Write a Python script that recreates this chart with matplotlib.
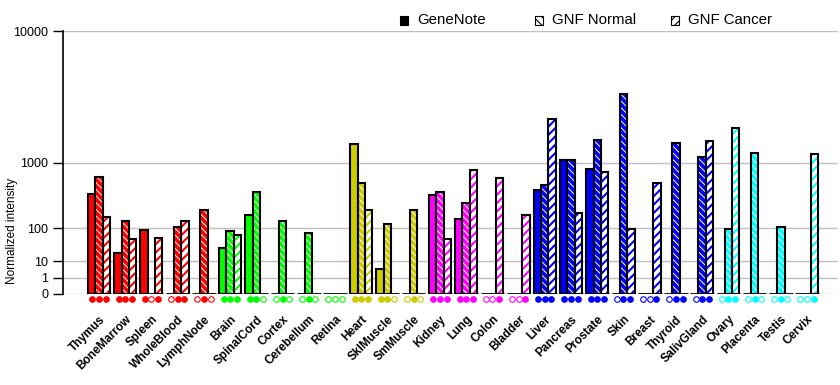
"""
Expression profile across tissues: GeneNote vs GNF normal / cancer.
Y axis uses a power scale where each decade takes twice the height of the one below.
"""
import matplotlib

matplotlib.use("Agg")
import matplotlib.pyplot as plt
from matplotlib.patches import Rectangle
import matplotlib.transforms as mtransforms
import numpy as np

plt.rcParams["font.family"] = ["Liberation Sans", "DejaVu Sans"]
plt.rcParams["hatch.linewidth"] = 1.3

TISSUES = ["Thymus", "BoneMarrow", "Spleen", "WholeBlood", "LymphNode",
           "Brain", "SpinalCord", "Cortex", "Cerebellum", "Retina",
           "Heart", "SklMuscle", "SmMuscle",
           "Kidney", "Lung", "Colon", "Bladder",
           "Liver", "Pancreas", "Prostate", "Skin", "Breast", "Thyroid", "SalivGland",
           "Ovary", "Placenta", "Testis", "Cervix"]

GENENOTE = [406, 21, 93, 0, 0, 31, 186, 0, 0, 0, 1556, 3.8, 0,
            396, 157, 0, 0, 452, 1053, 836, 0, 0, 0, 0, 0, 0, 0, 0]
GNF_NORMAL = [682, 139, 0, 108, 222, 89, 433, 139, 80, 0, 578, 125, 222,
              424, 290, 0, 0, 528, 1053, 1700, 4040, 0, 1600, 1133, 94, 1265, 108, 0]
GNF_CANCER = [171, 54, 57, 139, 0, 68, 0, 0, 0, 0, 222, 0, 0,
              54, 812, 651, 181, 2560, 196, 790, 98, 562, 0, 1640, 2190, 0, 0, 1237]

# presence calls shown as diamonds under each tissue (GeneNote, GNF normal, GNF cancer)
PRESENT = ["111", "111", "101", "011", "010",
           "111", "110", "010", "010", "000",
           "111", "110", "010",
           "111", "111", "001", "001",
           "111", "111", "111", "011", "001", "011", "011",
           "011", "010", "010", "001"]

GROUP_SIZES = [5, 5, 3, 4, 7, 4]
GROUP_COLORS = ["#ff0000", "#00ff00", "#cccc00", "#ff00ff", "#0000ff", "#00ffff"]

YTICKS = [0, 1, 10, 100, 1000, 10000]
EXP = np.log10(2)


def forward(v):
    return np.power(np.clip(v, 0, None), EXP)


def inverse(y):
    return np.power(np.clip(y, 0, None), 1 / EXP)


colors = []
for size, col in zip(GROUP_SIZES, GROUP_COLORS):
    colors += [col] * size

fig = plt.figure(figsize=(8.4, 3.85), dpi=100)
ax = fig.add_axes([63 / 840, 1 - 294 / 385, 775 / 840, 263 / 385])
ax.set_yscale("function", functions=(forward, inverse))
ax.set_ylim(0, 10000)
ax.set_xlim(-1.373, 28.18)

x = np.arange(len(TISSUES))
w = 0.28
offsets = [-w, 0, w]

for yv in YTICKS:
    ax.axhline(yv, color="#c0c0c0", lw=1, zorder=0)

for i in x:
    c = colors[i]
    vals = [GENENOTE[i], GNF_NORMAL[i], GNF_CANCER[i]]
    for k, v in enumerate(vals):
        if v <= 0:
            continue
        xc = i + offsets[k]
        if k == 0:
            ax.bar(xc, v, width=w, color=c, edgecolor="black", lw=1.5, zorder=3)
        elif k == 1:
            with matplotlib.rc_context({"hatch.linewidth": 0.7}):
                ax.bar(xc, v, width=w, color=c, edgecolor="white",
                       hatch="\\\\\\\\\\", lw=0, zorder=2)
            ax.bar(xc, v, width=w, fill=False, edgecolor="black", lw=1.5, zorder=3)
        else:
            with matplotlib.rc_context({"hatch.linewidth": 1.5}):
                ax.bar(xc, v, width=w, color="white", edgecolor=c,
                       hatch="////", lw=0, zorder=2)
            ax.bar(xc, v, width=w, fill=False, edgecolor="black", lw=1.5, zorder=3)
    ax.hlines(0, i - 0.45, i + 0.45, color="black", lw=2, zorder=4)

# presence markers below the baseline
trans = mtransforms.blended_transform_factory(ax.transData, ax.transAxes)
for i in x:
    for k, flag in enumerate(PRESENT[i]):
        filled = flag == "1"
        ax.plot(i + offsets[k] * 0.9, -0.02, marker="o", ms=4, transform=trans,
                clip_on=False, mec=colors[i], mew=0.8,
                mfc=colors[i] if filled else "white", zorder=5)

ax.set_xticks(x)
ax.set_xticklabels(TISSUES, rotation=45, ha="right", va="top",
                   rotation_mode="anchor", fontsize=8.5, fontweight="bold")
ax.tick_params(axis="x", length=0, pad=14)

ax.set_yticks(YTICKS)
ax.set_yticklabels([str(t) for t in YTICKS], fontsize=9)
ax.yaxis.set_minor_locator(matplotlib.ticker.NullLocator())
ax.tick_params(axis="y", length=7.5, width=1, direction="out", pad=3)
ax.set_ylabel("Normalized intensity", fontsize=8.5)
ax.yaxis.set_label_coords(-0.058, 0.24)

for side in ["top", "right", "bottom"]:
    ax.spines[side].set_visible(False)
ax.spines["left"].set_linewidth(1.2)

# legend drawn by hand at the top
legend_items = [
    (400, "black", None, "GeneNote"),
    (535, "white", "\\\\\\\\", "GNF Normal"),
    (671, "white", "////", "GNF Cancer"),
]
for px, fc, hatch, label in legend_items:
    with matplotlib.rc_context({"hatch.linewidth": 0.8}):
        fig.patches.append(Rectangle((px / 840, 1 - 24.5 / 385), 8 / 840, 8 / 385,
                                     transform=fig.transFigure, facecolor=fc,
                                     edgecolor="black", hatch=hatch, lw=0.8))
    fig.text((px + 17) / 840, 1 - 20.5 / 385, label, fontsize=10.8,
             ha="left", va="center")

fig.savefig("out.png", dpi=100)
